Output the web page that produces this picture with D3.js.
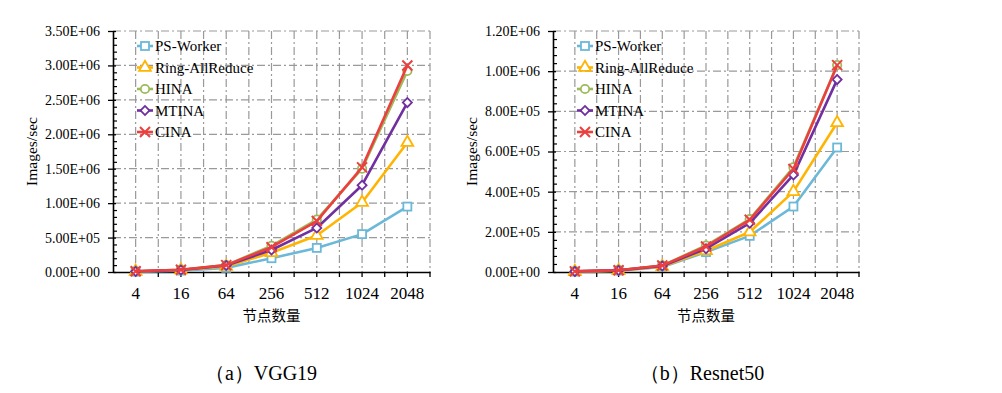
<!DOCTYPE html>
<html>
<head>
<meta charset="utf-8">
<script src="https://cdn.jsdelivr.net/npm/d3@7"></script>
<style>
  body { margin: 0; background: #fff; }
  svg text { font-family: "Liberation Serif", "Times New Roman", serif; fill: #000; }
  svg text.cjk { font-family: "Noto Sans CJK SC", sans-serif; }
</style>
</head>
<body>
<div id="chart"></div>
<script>
// categories (number of nodes)
const nodes = ["4", "16", "64", "256", "512", "1024", "2048"];
const seriesNames = ["PS-Worker", "Ring-AllReduce", "HINA", "MTINA", "CINA"];

// VGG19 throughput, images/sec
const vggPS     = [5e3, 2.0e4, 6.0e4, 2.0e5, 3.5e5, 5.5e5, 9.5e5];
const vggRing   = [8e3, 2.8e4, 8.0e4, 2.8e5, 5.3e5, 1.01e6, 1.88e6];
const vggHINA   = [1.0e4, 3.2e4, 1.0e5, 3.8e5, 7.6e5, 1.50e6, 2.92e6];
const vggMTINA  = [9e3, 3.0e4, 9.5e4, 3.2e5, 6.4e5, 1.26e6, 2.46e6];
const vggCINA   = [1.0e4, 3.2e4, 1.0e5, 3.6e5, 7.4e5, 1.52e6, 3.0e6];

// Resnet50 throughput, images/sec
const resPS     = [2e3, 7e3, 2.5e4, 9.9e4, 1.80e5, 3.26e5, 6.20e5];
const resRing   = [2e3, 7e3, 2.7e4, 1.06e5, 1.99e5, 4.00e5, 7.43e5];
const resHINA   = [3e3, 9e3, 3.2e4, 1.32e5, 2.63e5, 5.21e5, 1.03e6];
const resMTINA  = [3e3, 8e3, 3.0e4, 1.16e5, 2.43e5, 4.83e5, 9.58e5];
const resCINA   = [3e3, 9e3, 3.2e4, 1.27e5, 2.60e5, 5.13e5, 1.03e6];

// axis settings
const vggMax = 3.5e6, vggStep = 5e5, vggMinor = 1e5;
const resMax = 1.2e6, resStep = 2e5, resMinor = 4e4;

const colors = ["#6cb8d8", "#ffb400", "#9bbb59", "#7030a0", "#ec3f3f"];
const shapes = ["square", "triangle", "circle", "diamond", "x"];

const width = 1002, height = 393;
const svg = d3.select("#chart").append("svg")
    .attr("width", width)
    .attr("height", height);

function sci(v) {
  const [m, e] = v.toExponential(2).split("e");
  const n = +e;
  return m + "E" + (n < 0 ? "-" : "+") + String(Math.abs(n)).padStart(2, "0");
}

function marker(g, shape, color) {
  if (shape === "square") {
    g.append("rect").attr("x", -4).attr("y", -4).attr("width", 8).attr("height", 8)
      .attr("fill", "#fff").attr("stroke", color).attr("stroke-width", 1.8);
  } else if (shape === "triangle") {
    g.append("path").attr("d", d3.symbol(d3.symbolTriangle, 60)())
      .attr("fill", "#fff").attr("stroke", color).attr("stroke-width", 1.8);
  } else if (shape === "circle") {
    g.append("circle").attr("r", 4.2)
      .attr("fill", "#fff").attr("stroke", color).attr("stroke-width", 1.8);
  } else if (shape === "diamond") {
    g.append("rect").attr("x", -3.2).attr("y", -3.2).attr("width", 6.4).attr("height", 6.4)
      .attr("transform", "rotate(45)")
      .attr("fill", "#fff").attr("stroke", color).attr("stroke-width", 1.8);
  } else {
    g.append("path").attr("d", "M-5,-5L5,5M-5,5L5,-5")
      .attr("fill", "none").attr("stroke", color).attr("stroke-width", 2);
  }
}

function createGraph(opts) {
  const { left, right, top, bottom, yMax, yStep, yMinor, data, caption } = opts;

  const x = d3.scaleBand().domain(nodes).range([left, right]);
  const bw = x.bandwidth();
  const y = d3.scaleLinear().domain([0, yMax]).range([bottom, top]);

  const majors = d3.range(0, yMax + yStep / 2, yStep);
  const minors = d3.range(0, yMax + yMinor / 2, yMinor).filter(v => Math.abs(v / yStep - Math.round(v / yStep)) > 1e-6);
  const halfTicks = nodes.flatMap(d => [x(d) + bw / 2, x(d) + bw]);

  const g = svg.append("g");

  // grid
  g.append("g").selectAll("line").data(majors.filter(v => v > 0)).join("line")
      .attr("x1", left).attr("x2", right)
      .attr("y1", d => y(d)).attr("y2", d => y(d))
      .attr("stroke", "#999").attr("stroke-width", 1.2)
      .attr("stroke-dasharray", "8,3,2,3");
  g.append("g").selectAll("line").data(halfTicks).join("line")
      .attr("x1", d => d).attr("x2", d => d)
      .attr("y1", top).attr("y2", bottom)
      .attr("stroke", "#999").attr("stroke-width", 1.2)
      .attr("stroke-dasharray", "8,3,2,3");

  // y axis
  g.append("g")
      .attr("transform", `translate(${left},0)`)
      .call(d3.axisLeft(y).tickValues(majors).tickFormat(sci).tickSizeInner(5).tickSizeOuter(0).tickPadding(8))
      .call(a => a.select(".domain").attr("stroke-width", 1.6))
      .call(a => a.selectAll(".tick line").attr("x2", 3).attr("x1", -5).attr("stroke-width", 1.3))
      .call(a => a.selectAll(".tick text").style("font-size", "14px"));
  g.append("g")
      .attr("transform", `translate(${left},0)`)
      .call(d3.axisRight(y).tickValues(minors).tickFormat("").tickSizeInner(4).tickSizeOuter(0))
      .call(a => a.select(".domain").remove())
      .call(a => a.selectAll(".tick line").attr("stroke-width", 1.2));

  // x axis
  g.append("g")
      .attr("transform", `translate(0,${bottom})`)
      .call(d3.axisBottom(x).tickSizeInner(5).tickSizeOuter(0).tickPadding(10))
      .call(a => a.select(".domain").attr("stroke-width", 1.6))
      .call(a => a.selectAll(".tick line").attr("stroke-width", 1.3))
      .call(a => a.selectAll(".tick text").style("font-size", "17px"));
  g.append("g").selectAll("line").data(nodes).join("line")
      .attr("x1", d => x(d) + bw).attr("x2", d => x(d) + bw)
      .attr("y1", bottom).attr("y2", bottom + 5)
      .attr("stroke", "#000").attr("stroke-width", 1.3);

  // axis titles
  g.append("text")
      .attr("transform", `translate(${left - 76},${(top + bottom) / 2}) rotate(-90)`)
      .attr("text-anchor", "middle")
      .style("font-size", "15.5px")
      .text("Images/sec");
  g.append("text")
      .attr("class", "cjk")
      .attr("x", (left + right) / 2).attr("y", bottom + 49)
      .attr("text-anchor", "middle")
      .style("font-size", "14.5px")
      .text("节点数量");

  // lines
  const line = d3.line().x(d => x(d.node) + bw / 2).y(d => y(d.value));
  data.forEach((values, i) => {
    const pts = nodes.map((n, j) => ({ node: n, value: values[j] }));
    g.append("path").datum(pts)
        .attr("fill", "none").attr("stroke", colors[i]).attr("stroke-width", 2.6)
        .attr("stroke-linejoin", "round")
        .attr("d", line);
    pts.forEach(p => {
      const m = g.append("g").attr("transform", `translate(${x(p.node) + bw / 2},${y(p.value)})`);
      marker(m, shapes[i], colors[i]);
    });
  });

  // legend
  const lg = g.append("g").attr("transform", `translate(${left + 24},${top + 15})`);
  seriesNames.forEach((name, i) => {
    const row = lg.append("g").attr("transform", `translate(0,${i * 21.5})`);
    row.append("line").attr("x1", 0).attr("x2", 16).attr("stroke", colors[i]).attr("stroke-width", 2.6);
    marker(row.append("g").attr("transform", "translate(8,0)"), shapes[i], colors[i]);
    row.append("text").attr("x", 18).attr("dy", "0.35em").style("font-size", "15px").text(name);
  });

  // caption
  svg.append("text")
      .attr("x", opts.captionX).attr("y", 380)
      .attr("text-anchor", "middle")
      .style("font-size", "20px")
      .text(caption);
}

createGraph({
  left: 113, right: 430, top: 31, bottom: 272,
  yMax: vggMax, yStep: vggStep, yMinor: vggMinor,
  data: [vggPS, vggRing, vggHINA, vggMTINA, vggCINA],
  caption: "（a）VGG19", captionX: 261
});

createGraph({
  left: 553, right: 859, top: 31, bottom: 272,
  yMax: resMax, yStep: resStep, yMinor: resMinor,
  data: [resPS, resRing, resHINA, resMTINA, resCINA],
  caption: "（b）Resnet50", captionX: 702
});
</script>
</body>
</html>
